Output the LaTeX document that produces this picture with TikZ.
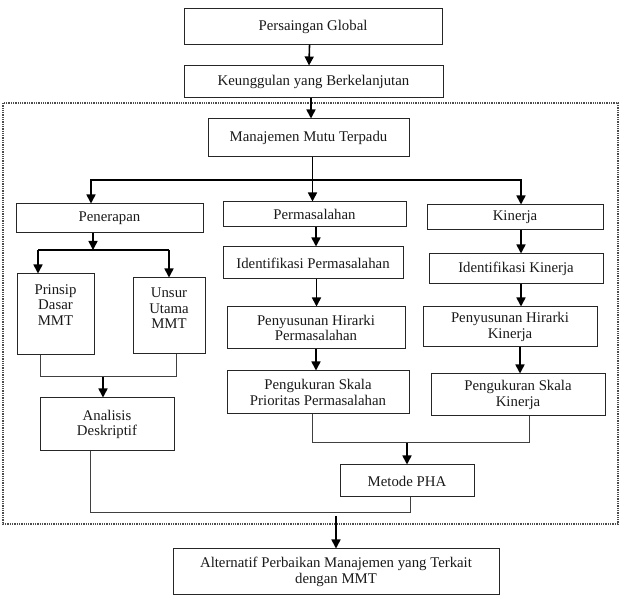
\documentclass[tikz,border=0pt]{standalone}
\usepackage{fontspec}
\setmainfont{Liberation Serif}
\usetikzlibrary{arrows.meta}
\tikzset{
  box/.style={draw=black!85, line width=1pt, rectangle, inner sep=0pt, align=center,
    font=\fontsize{14.8}{15.5}\selectfont, text=black!90},
  lbl/.style={inner sep=0pt, align=center, font=\fontsize{14.8}{15.5}\selectfont, text=black!90},
  arr/.style={draw=black, line width=1.6pt, -{Triangle[width=9pt,length=9pt]}},
  hline/.style={draw=black, line width=1.6pt},
  thinline/.style={draw=black!75, line width=1pt},
  frame/.style={draw=black!70, line width=1.3pt, densely dotted}
}
\begin{document}
\begin{tikzpicture}[x=1pt,y=-1pt]
\useasboundingbox (0,0) rectangle (625,596);
% dotted frame
\draw[frame] (3,103) rectangle (618,524);
% boxes
\node[box, minimum width=258, minimum height=36] (pg) at (313,27) {Persaingan Global};
\node[box, minimum width=259, minimum height=32] (ku) at (313.5,82) {Keunggulan yang Berkelanjutan};
\node[box, minimum width=201, minimum height=38] (mmt) at (308.5,138) {Manajemen Mutu Terpadu};
\node[box, minimum width=187, minimum height=29] (pen) at (109.5,218.5) {Penerapan};
\node[box, minimum width=183, minimum height=25] (per) at (314.5,214.5) {Permasalahan};
\node[box, minimum width=176, minimum height=25] (kin) at (515,217.5) {Kinerja};
\node[box, minimum width=77, minimum height=81] (pri) at (55.5,314.5) {};
\node[lbl] (pritxt) at (55.5,305) {Prinsip\\Dasar\\MMT};
\node[box, minimum width=72, minimum height=76] (uns) at (169,316) {};
\node[lbl] (unstxt) at (169,308.5) {Unsur\\Utama\\MMT};
\node[box, minimum width=134, minimum height=53] (ana) at (107,424.5) {Analisis\\Deskriptif};
\node[box, minimum width=180, minimum height=32] (ip) at (313,263) {Identifikasi Permasalahan};
\node[box, minimum width=174, minimum height=30] (ik) at (516,269) {Identifikasi Kinerja};
\node[box, minimum width=178, minimum height=42] (hp) at (316,328) {Penyusunan Hirarki\\Permasalahan};
\node[box, minimum width=174, minimum height=40] (hk) at (510,327) {Penyusunan Hirarki\\Kinerja};
\node[box, minimum width=182, minimum height=43] (sp) at (318,392.5) {Pengukuran Skala\\Prioritas Permasalahan};
\node[box, minimum width=174, minimum height=42] (sk) at (518,395) {Pengukuran Skala\\Kinerja};
\node[box, minimum width=134, minimum height=32] (pha) at (407,481) {Metode PHA};
\node[box, minimum width=326, minimum height=46] (alt) at (336,572) {Alternatif Perbaikan Manajemen yang Terkait\\dengan MMT};
% junction coordinates
\coordinate (hub) at (312.5,180);
\coordinate (psplit) at (93,250);
\coordinate (pl) at (40,377);
\coordinate (pr) at (176,377);
\coordinate (pmerge) at (103,377);
\coordinate (ql) at (312,443);
\coordinate (qr) at (529,443);
\coordinate (qmerge) at (407,443);
\coordinate (bl) at (90,513);
\coordinate (br) at (410,513);
\coordinate (bmerge) at (336,513);
% top chain
\draw[arr] ([xshift=-4pt]pg.south) -- ([xshift=-4pt]ku.north |- pg.south) -- ([xshift=-4.5pt]ku.north);
\draw[arr] ([xshift=2.5pt]mmt.north |- ku.south) -- ([xshift=2.5pt]mmt.north);
% branch from MMT
\draw[hline] ([xshift=4pt]mmt.south) -- (hub);
\draw[arr] (hub) -| ([xshift=-18.5pt]pen.north);
\draw[arr] (hub) -- ([xshift=-2pt]per.north);
\draw[arr] (hub) -| ([xshift=6pt]kin.north);
% Penerapan split
\draw[arr] ([xshift=-16.5pt]pen.south) -- (psplit);
\draw[hline] (psplit) -- ([xshift=-17.5pt]pri.north |- psplit);
\draw[hline] (psplit) -- (uns.north |- psplit);
\draw[arr] ([xshift=-17.5pt]pri.north |- psplit) -- ([xshift=-17.5pt]pri.north);
\draw[arr] (uns.north |- psplit) -- (uns.north);
% merge to Analisis
\draw[thinline] ([xshift=-15.5pt]pri.south) -- (pl) -- (pr) -- ([xshift=7pt]uns.south);
\draw[arr] (pmerge) -- ([xshift=-4pt]ana.north);
% Permasalahan column
\draw[arr] ([xshift=1.5pt]per.south) -- ([xshift=3pt]ip.north);
\draw[arr] ([xshift=3.5pt]ip.south) -- ([xshift=0.5pt]hp.north);
\draw[arr] (hp.south) -- ([xshift=-2pt]sp.north);
% Kinerja column
\draw[arr] ([xshift=6pt]kin.south) -- ([xshift=5pt]ik.north);
\draw[arr] ([xshift=5pt]ik.south) -- ([xshift=11pt]hk.north);
\draw[arr] ([xshift=10pt]hk.south) -- ([xshift=2pt]sk.north);
% merge to PHA
\draw[thinline] ([xshift=-6pt]sp.south) -- (ql) -- (qr) -- ([xshift=11pt]sk.south);
\draw[arr] (qmerge) -- (pha.north);
% bottom merge
\draw[thinline] ([xshift=-17pt]ana.south) -- (bl) -- (br) -- ([xshift=3pt]pha.south);
\draw[arr] ([yshift=-3pt]bmerge) -- (alt.north);
\end{tikzpicture}
\end{document}
